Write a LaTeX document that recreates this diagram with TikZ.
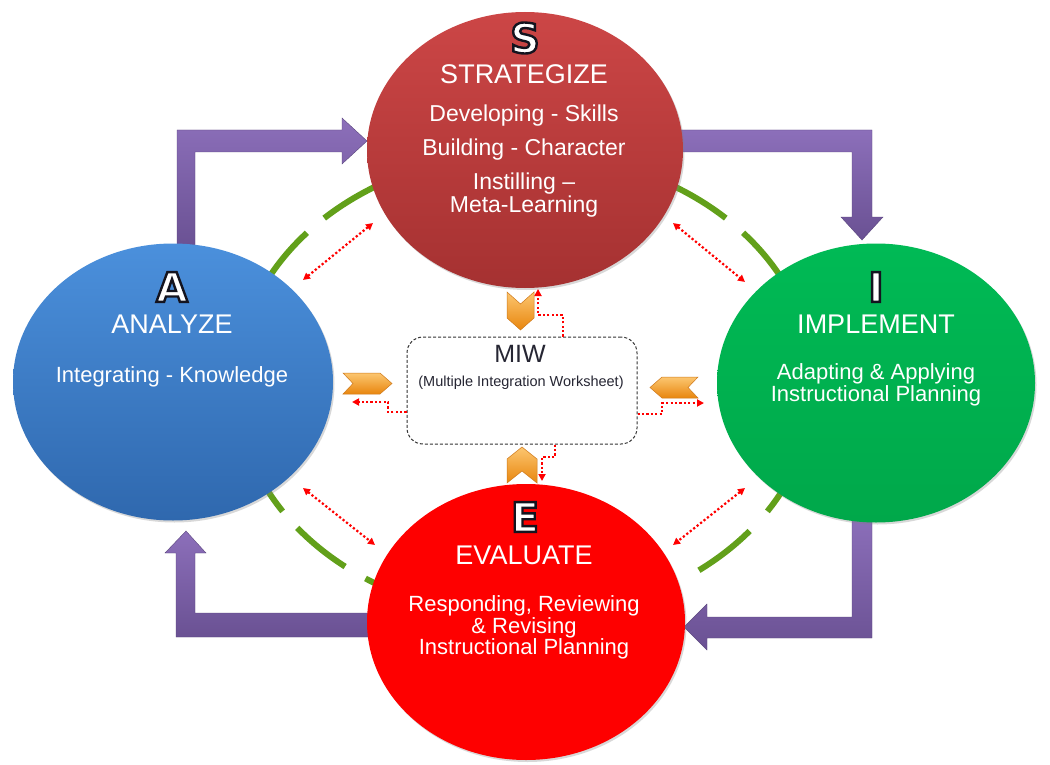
\documentclass[tikz,border=0pt]{standalone}
\usepackage{fontspec}
\setmainfont{Liberation Sans}
\newfontfamily\ltrfont{DejaVu Sans}
\usetikzlibrary{shapes.geometric,arrows.meta,calc,shadows}
\definecolor{sTop}{HTML}{CC4646}
\definecolor{sBot}{HTML}{A53131}
\definecolor{aTop}{HTML}{4B90DC}
\definecolor{aBot}{HTML}{2F68AE}
\definecolor{iTop}{HTML}{00BA55}
\definecolor{iBot}{HTML}{00A84A}
\definecolor{eCol}{HTML}{FE0000}
\definecolor{pTop}{HTML}{8C6FBA}
\definecolor{pBot}{HTML}{6A5193}
\definecolor{gArc}{HTML}{62A01A}
\definecolor{oTop}{HTML}{FCC670}
\definecolor{oBot}{HTML}{E8860E}
\definecolor{oEdge}{HTML}{CF7A1C}
\definecolor{miwText}{HTML}{262633}
\newcommand{\ttlfont}{\fontsize{27}{27}\selectfont}
\newcommand{\bodyfont}{\fontsize{22}{20}\selectfont}
\newcommand{\bigltr}[3]{%
  \node[bigl] (#1) at (#2) {\special{pdf:literal direct 2 Tr 2.4 w 0.08 0.08 0.12 RG}#3\special{pdf:literal direct 0 Tr}};}
\begin{document}
\begin{tikzpicture}[x=1pt,y=-1pt,
  circ/.style={ellipse, inner sep=0pt, drop shadow={shadow xshift=1.5pt,shadow yshift=-2pt,opacity=0.3}},
  txt/.style={text=white, inner sep=0pt, align=center},
  bigl/.style={inner sep=0pt, text=white, font=\ltrfont\bfseries\fontsize{41}{41}\selectfont},
  garc/.style={draw=gArc, line width=6pt},
  parrow/.style={top color=pTop, bottom color=pBot, draw=pBot!85!black, line width=0.4pt},
  chev/.style={top color=oTop, bottom color=oBot, draw=oEdge, line width=0.5pt},
  rdot/.style={draw=red, line width=2.2pt, dash pattern=on 2.2pt off 2.2pt},
  rtip/.style={-{Triangle[length=7pt,width=7pt]}},
  rtips/.style={{Triangle[length=7pt,width=7pt]}-{Triangle[length=7pt,width=7pt]}}
]
\useasboundingbox[fill=white] (0,0) rectangle (1050,765);

% green dashed ring
\foreach \a/\b in {121/134, 139/158, 22/41, 46/59, 196/213, 218/231.5, 236.5/250, 327/344, 307/321}{
  \draw[garc] plot[domain=\a:\b, samples=24] ({525+289*cos(\x)},{385-232*sin(\x)});
}

% purple arrows
\path[parrow] (177,248) -- (177,130) -- (342,130) -- (342,118) -- (367,141) -- (342,164) -- (342,152) -- (195,152) -- (195,248) -- cycle;
\path[parrow] (672,130) -- (872,130) -- (872,217) -- (883,217) -- (862,240) -- (841,217) -- (852,217) -- (852,152) -- (672,152) -- cycle;
\path[parrow] (852,515) -- (872,515) -- (872,638) -- (707,638) -- (707,650) -- (684,627) -- (707,604) -- (707,617) -- (852,617) -- cycle;
\path[parrow] (375,613) -- (195,613) -- (195,553) -- (206,553) -- (186,531) -- (165,553) -- (176,553) -- (176,637) -- (375,637) -- cycle;

% circles
\node[circ, minimum width=316pt, minimum height=276pt, top color=sTop, bottom color=sBot] (S) at (525,150) {};
\node[circ, minimum width=320pt, minimum height=277pt, top color=aTop, bottom color=aBot] (A) at (173,382) {};
\node[circ, minimum width=318pt, minimum height=279pt, top color=iTop, bottom color=iBot] (I) at (876,383) {};
\node[circ, minimum width=318pt, minimum height=276pt, fill=eCol] (E) at (526,622) {};

% S texts
\bigltr{sL}{525,38}{S}
\node[txt, font=\ttlfont] (sT) at (524,74) {STRATEGIZE};
\node[txt, font=\fontsize{23}{20}\selectfont] (s1) at (524,116) {Developing - Skills};
\node[txt, font=\fontsize{23}{20}\selectfont] (s2) at (524,150) {Building - Character};
\node[txt, font=\fontsize{23}{23}\selectfont] (s3) at (524,195.5) {Instilling --\\Meta-Learning};

% A texts
\bigltr{aL}{172,287}{A}
\node[txt, font=\ttlfont] (aT) at (172,324) {ANALYZE};
\node[txt, font=\bodyfont] (a1) at (172,377) {Integrating - Knowledge};

% I texts
\bigltr{iL}{876,287}{I}
\node[txt, font=\ttlfont] (iT) at (876,324) {IMPLEMENT};
\node[txt, font=\bodyfont] (i1) at (876,385) {Adapting \& Applying\\Instructional Planning};

% E texts
\bigltr{eL}{525,517}{E}
\node[txt, font=\ttlfont] (eT) at (524,555) {EVALUATE};
\node[txt, font=\bodyfont] (e1) at (524,627.5) {Responding, Reviewing\\\& Revising\\Instructional Planning};

% MIW box
\node[draw=black!80, dash pattern=on 3pt off 2pt, line width=1pt, rounded corners=16pt, fill=white,
      minimum width=230pt, minimum height=107pt, inner sep=0pt] (miw) at (522,390.5) {};
\node[text=miwText, inner sep=0pt, font=\fontsize{25}{25}\selectfont] (miwT) at (520,354) {MIW};
\node[text=miwText, inner sep=0pt, font=\fontsize{14.5}{15}\selectfont] (miwS) at (521,383) {(Multiple Integration Worksheet)};

% chevrons
\path[chev] (507,292) -- (520.5,304) -- (534,292) -- (534,318) -- (520.5,330) -- (507,318) -- cycle;
\path[chev] (507,483) -- (522,471) -- (537,483) -- (537,459) -- (522,447) -- (507,459) -- cycle;
\path[chev] (343,373) -- (380,373) -- (392,383.5) -- (380,394) -- (343,394) -- (353,383.5) -- cycle;
\path[chev] (698,377) -- (662,377) -- (650,387.5) -- (662,398) -- (698,398) -- (688,387.5) -- cycle;

% red dotted elbow arrows from MIW
\coordinate (mN) at ($(miw.north)+(41,0)$);
\coordinate (mW) at ($(miw.west)+(0,21.5)$);
\coordinate (mE) at ($(miw.east)+(0,23.5)$);
\coordinate (mS) at ($(miw.south)+(33,0)$);
\coordinate (tN) at (538,289);
\coordinate (tW) at (352,402);
\coordinate (tE) at (704,403);
\coordinate (tS) at (542,481);
\draw[rdot,rtip] (mN) -- (563,315) -- (538,315) -- (tN);
\draw[rdot,rtip] (mW) -- (388,412) -- (388,402) -- (tW);
\draw[rdot,rtip] (mE) -- (662,414) -- (662,403) -- (tE);
\draw[rdot,rtip] (mS) -- (555,457) -- (542,457) -- (tS);

% red dotted double arrows
\coordinate (d1a) at (303,280); \coordinate (d1b) at (373,223);
\coordinate (d2a) at (673,223); \coordinate (d2b) at (745,282);
\coordinate (d3a) at (303,488); \coordinate (d3b) at (375,545);
\coordinate (d4a) at (745,488); \coordinate (d4b) at (673,545);
\draw[rdot,rtips] (d1a) -- (d1b);
\draw[rdot,rtips] (d2a) -- (d2b);
\draw[rdot,rtips] (d3a) -- (d3b);
\draw[rdot,rtips] (d4a) -- (d4b);
\end{tikzpicture}
\end{document}
